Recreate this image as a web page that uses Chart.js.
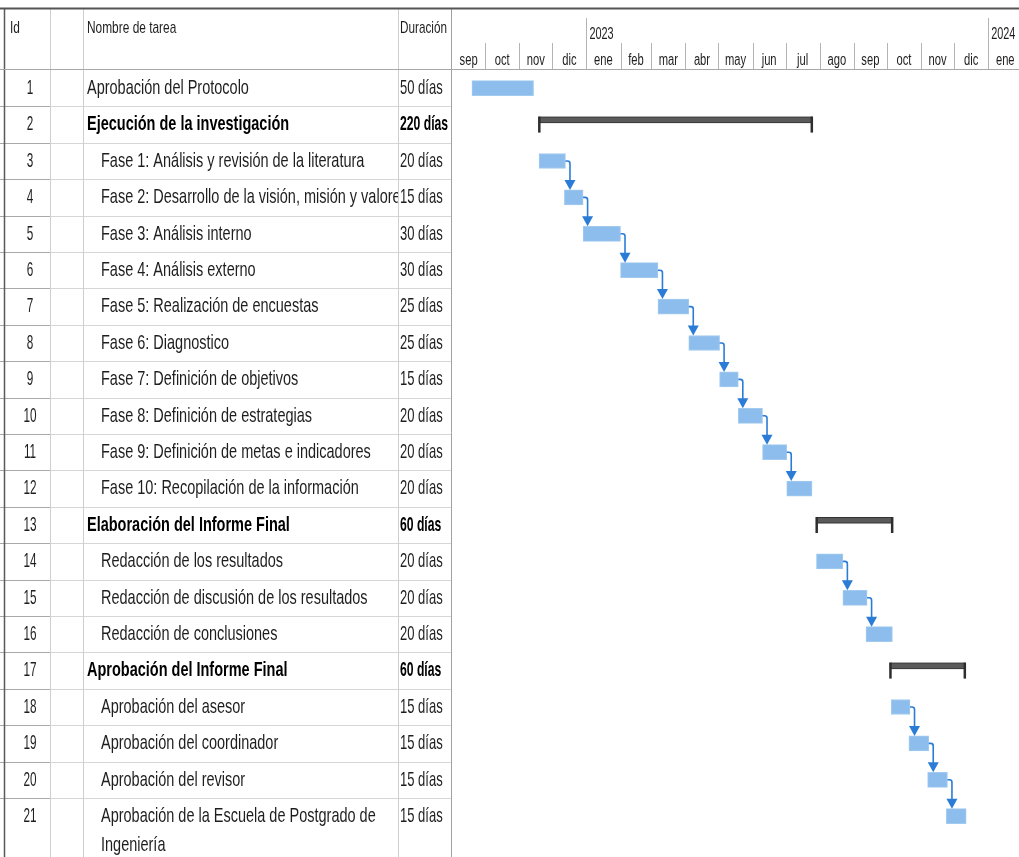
<!DOCTYPE html>
<html>
<head>
<meta charset="utf-8">
<script src="https://cdn.jsdelivr.net/npm/chart.js@4.4.1/dist/chart.umd.min.js"></script>
<style>
    html, body { margin: 0; padding: 0; background: #fff; }
    canvas { display: block; }
</style>
</head>
<body>
<canvas id="ganttChart" width="1019" height="857"></canvas>
<script>
const taskIds = ["1", "2", "3", "4", "5", "6", "7", "8", "9", "10", "11", "12", "13", "14", "15", "16", "17", "18", "19", "20", "21"];

const taskNames = [
    "Aprobación del Protocolo",
    "Ejecución de la investigación",
    "Fase 1: Análisis y revisión de la literatura",
    "Fase 2: Desarrollo de la visión, misión y valores",
    "Fase 3: Análisis interno",
    "Fase 4: Análisis externo",
    "Fase 5: Realización de encuestas",
    "Fase 6: Diagnostico",
    "Fase 7: Definición de objetivos",
    "Fase 8: Definición de estrategias",
    "Fase 9: Definición de metas e indicadores",
    "Fase 10: Recopilación de la información",
    "Elaboración del Informe Final",
    "Redacción de los resultados",
    "Redacción de discusión de los resultados",
    "Redacción de conclusiones",
    "Aprobación del Informe Final",
    "Aprobación del asesor",
    "Aprobación del coordinador",
    "Aprobación del revisor",
    "Aprobación de la Escuela de Postgrado de\nIngeniería"
];

const durations = ["50 días", "220 días", "20 días", "15 días", "30 días", "30 días", "25 días", "25 días", "15 días", "20 días", "20 días", "20 días", "60 días", "20 días", "20 días", "20 días", "60 días", "15 días", "15 días", "15 días", "15 días"];

const summaryIds = ["2", "13", "17"];
const topLevelIds = ["1", "2", "13", "17"];

const startDates = ["2022-09-19", "2022-11-19", "2022-11-19", "2022-12-12", "2022-12-29", "2023-02-01", "2023-03-07", "2023-04-04", "2023-05-02", "2023-05-19", "2023-06-10", "2023-07-02", "2023-07-29", "2023-07-29", "2023-08-22", "2023-09-12", "2023-10-04", "2023-10-05", "2023-10-21", "2023-11-07", "2023-11-24"];
const endDates = ["2022-11-14", "2023-07-25", "2022-12-13", "2022-12-29", "2023-02-01", "2023-03-07", "2023-04-04", "2023-05-02", "2023-05-19", "2023-06-10", "2023-07-02", "2023-07-25", "2023-10-06", "2023-08-22", "2023-09-13", "2023-10-06", "2023-12-11", "2023-10-22", "2023-11-08", "2023-11-25", "2023-12-12"];

// predecessor -> successor (task ids)
const links = [["3", "4"], ["4", "5"], ["5", "6"], ["6", "7"], ["7", "8"], ["8", "9"], ["9", "10"], ["10", "11"], ["11", "12"], ["14", "15"], ["15", "16"], ["18", "19"], ["19", "20"], ["20", "21"]];

const monthLabels = ["sep", "oct", "nov", "dic", "ene", "feb", "mar", "abr", "may", "jun", "jul", "ago", "sep", "oct", "nov", "dic", "ene"];
const monthStarts = ["2022-09-01", "2022-10-01", "2022-11-01", "2022-12-01", "2023-01-01", "2023-02-01", "2023-03-01", "2023-04-01", "2023-05-01", "2023-06-01", "2023-07-01", "2023-08-01", "2023-09-01", "2023-10-01", "2023-11-01", "2023-12-01", "2024-01-01", "2024-02-01"];
const yearLabels = ["2023", "2024"];
const yearStarts = ["2023-01-01", "2024-01-01"];

const axisStart = "2022-08-31";
const axisEnd = "2024-01-29";

const FONT = "'Liberation Sans', Arial, sans-serif";
const BLUE = "#8dbdec";
const ARROW = "#2b7cd6";
const COLS = { left: 4, id: 50, mark: 83, name: 398, dur: 451 };

function dayOf(str) {
    const p = str.split("-").map(Number);
    return (Date.UTC(p[0], p[1] - 1, p[2]) - Date.UTC(2022, 8, 1)) / 86400000;
}

const taskBars = taskIds.map((id, i) =>
    summaryIds.includes(id) ? null : [dayOf(startDates[i]), dayOf(endDates[i])]
);
const summaryBars = taskIds.map((id, i) =>
    summaryIds.includes(id) ? [dayOf(startDates[i]), dayOf(endDates[i])] : null
);

function textWidth(ctx, text, size, sx, bold) {
    ctx.save();
    ctx.font = (bold ? "bold " : "") + size + "px " + FONT;
    const w = ctx.measureText(text).width * sx;
    ctx.restore();
    return w;
}

function squeezeText(ctx, text, x, y, size, sx, bold) {
    ctx.save();
    ctx.font = (bold ? "bold " : "") + size + "px " + FONT;
    ctx.textAlign = "left";
    ctx.textBaseline = "middle";
    ctx.fillStyle = bold ? "#000" : "#1e1e1e";
    ctx.translate(x, y);
    ctx.scale(sx, 1);
    ctx.fillText(text, 0, 0);
    ctx.restore();
}

function line(ctx, x1, y1, x2, y2, color, width) {
    ctx.save();
    ctx.strokeStyle = color;
    ctx.lineWidth = width;
    ctx.beginPath();
    ctx.moveTo(x1, y1);
    ctx.lineTo(x2, y2);
    ctx.stroke();
    ctx.restore();
}

const ganttPlugin = {
    id: "ganttTable",
    beforeDraw(chart) {
        const ctx = chart.ctx;
        const yScale = chart.scales.y;
        const xScale = chart.scales.x;
        const W = chart.width;
        const H = chart.height;
        const rowH = yScale.getPixelForValue(1) - yScale.getPixelForValue(0);

        ctx.save();
        ctx.fillStyle = "#fff";
        ctx.fillRect(0, 0, W, H);
        ctx.restore();

        // row separators in the table
        taskIds.forEach((id, i) => {
            if (i === taskIds.length - 1) return;
            const yb = Math.round(yScale.getPixelForValue(i) + rowH / 2) + 0.5;
            line(ctx, 0, yb, COLS.id, yb, "#a9a9a9", 1);
            line(ctx, COLS.id, yb, COLS.dur, yb, "#d6d6d6", 1);
        });

        // column lines
        line(ctx, COLS.left + 0.5, 8, COLS.left + 0.5, H, "#5a5a5a", 1.5);
        [COLS.id, COLS.mark, COLS.name].forEach((x) => line(ctx, x + 0.5, 8, x + 0.5, H, "#cfcfcf", 1));
        line(ctx, COLS.dur + 0.5, 8, COLS.dur + 0.5, H, "#a0a0a0", 1);

        // header
        line(ctx, 0, 69.5, W, 69.5, "#a8a8a8", 1.2);
        line(ctx, 0, 8.5, W, 8.5, "#555", 2);
        squeezeText(ctx, "Id", 10, 28, 17, 0.7);
        squeezeText(ctx, "Nombre de tarea", 87, 28, 17, 0.7);
        squeezeText(ctx, "Duración", 400, 28, 17, 0.69);

        // timescale header
        monthStarts.forEach((m) => {
            const x = Math.round(xScale.getPixelForValue(dayOf(m))) + 0.5;
            if (x <= COLS.dur + 2 || x >= W) return;
            const isYear = yearStarts.includes(m);
            line(ctx, x, isYear ? 18 : 43, x, 69, "#b4b4b4", 1);
        });
        yearStarts.forEach((ys, i) => {
            const x = xScale.getPixelForValue(dayOf(ys));
            squeezeText(ctx, yearLabels[i], x + 3, 35, 16, 0.68);
        });
        xScale.ticks.forEach((t, i) => {
            const label = monthLabels[i];
            const w = textWidth(ctx, label, 16, 0.7);
            squeezeText(ctx, label, xScale.getPixelForValue(t.value) - w / 2, 61, 16, 0.7);
        });

        // table rows
        taskIds.forEach((id, i) => {
            const cy = yScale.getPixelForValue(i);
            const bold = summaryIds.includes(id);
            const indent = topLevelIds.includes(id) ? 87 : 101;
            const idW = textWidth(ctx, id, 21, 0.56);
            squeezeText(ctx, id, 30 - idW / 2, cy, 21, 0.56);

            ctx.save();
            ctx.beginPath();
            ctx.rect(COLS.mark + 1, cy - rowH, COLS.name - COLS.mark - 1, rowH * 3);
            ctx.clip();
            taskNames[i].split("\n").forEach((txt, k) => {
                squeezeText(ctx, txt, indent, cy + k * 29, 21, 0.69, bold);
            });
            ctx.restore();

            squeezeText(ctx, durations[i], 400, cy, 21, bold ? 0.58 : 0.62, bold);
        });
    },
    afterDatasetsDraw(chart) {
        const ctx = chart.ctx;
        const taskMeta = chart.getDatasetMeta(0);
        const sumMeta = chart.getDatasetMeta(1);

        // summary brackets
        sumMeta.data.forEach((el, i) => {
            if (!summaryBars[i]) return;
            const p = el.getProps(["x", "y", "base"], true);
            const x1 = Math.min(p.x, p.base);
            const x2 = Math.max(p.x, p.base);
            ctx.save();
            ctx.fillStyle = "#5a5a5a";
            ctx.strokeStyle = "#333";
            ctx.lineWidth = 1;
            ctx.fillRect(x1, p.y - 7.5, x2 - x1, 5.5);
            ctx.strokeRect(x1, p.y - 7.5, x2 - x1, 5.5);
            ctx.fillStyle = "#2e2e2e";
            ctx.fillRect(x1 - 1, p.y - 8, 2.5, 16);
            ctx.fillRect(x2 - 1.5, p.y - 8, 2.5, 16);
            ctx.restore();
        });

        // dependency arrows
        links.forEach(([from, to]) => {
            const a = taskMeta.data[taskIds.indexOf(from)].getProps(["x", "y", "base", "height"], true);
            const b = taskMeta.data[taskIds.indexOf(to)].getProps(["x", "y", "base", "height"], true);
            const xEnd = Math.max(a.x, a.base);
            const xl = xEnd + 4.5;
            const top = b.y - b.height / 2;
            ctx.save();
            ctx.strokeStyle = ARROW;
            ctx.fillStyle = ARROW;
            ctx.lineWidth = 1.6;
            ctx.beginPath();
            ctx.moveTo(xEnd, a.y);
            ctx.lineTo(xl - 2.5, a.y);
            ctx.quadraticCurveTo(xl, a.y, xl, a.y + 2.5);
            ctx.lineTo(xl, top - 9);
            ctx.stroke();
            ctx.beginPath();
            ctx.moveTo(xl - 5.5, top - 10);
            ctx.lineTo(xl + 5.5, top - 10);
            ctx.lineTo(xl, top);
            ctx.closePath();
            ctx.fill();
            ctx.restore();
        });
    }
};

new Chart(
    document.getElementById("ganttChart"),
    {
        type: "bar",
        data: {
            labels: taskIds,
            datasets: [
                {
                    label: "Tareas",
                    data: taskBars,
                    backgroundColor: BLUE,
                    borderColor: "#a3cbf0",
                    borderWidth: 1,
                    borderSkipped: false,
                    barThickness: 15,
                    grouped: false
                },
                {
                    label: "Resumen",
                    data: summaryBars,
                    backgroundColor: "rgba(0,0,0,0)",
                    barThickness: 16,
                    grouped: false
                }
            ]
        },
        options: {
            indexAxis: "y",
            responsive: false,
            animation: false,
            layout: { padding: { left: COLS.dur, top: 0, right: 0, bottom: 22.6 } },
            plugins: {
                legend: { display: false },
                tooltip: { enabled: false }
            },
            scales: {
                x: {
                    type: "linear",
                    position: "top",
                    min: dayOf(axisStart),
                    max: dayOf(axisEnd),
                    grid: { display: false, drawTicks: false },
                    border: { display: false },
                    ticks: { display: false },
                    afterBuildTicks: (scale) => {
                        scale.ticks = monthLabels.map((m, i) => ({
                            value: (dayOf(monthStarts[i]) + dayOf(monthStarts[i + 1])) / 2
                        }));
                    },
                    afterFit: (scale) => { scale.height = 70; }
                },
                y: {
                    type: "category",
                    display: false,
                    grid: { display: false }
                }
            }
        },
        plugins: [ganttPlugin]
    }
);
</script>
</body>
</html>
